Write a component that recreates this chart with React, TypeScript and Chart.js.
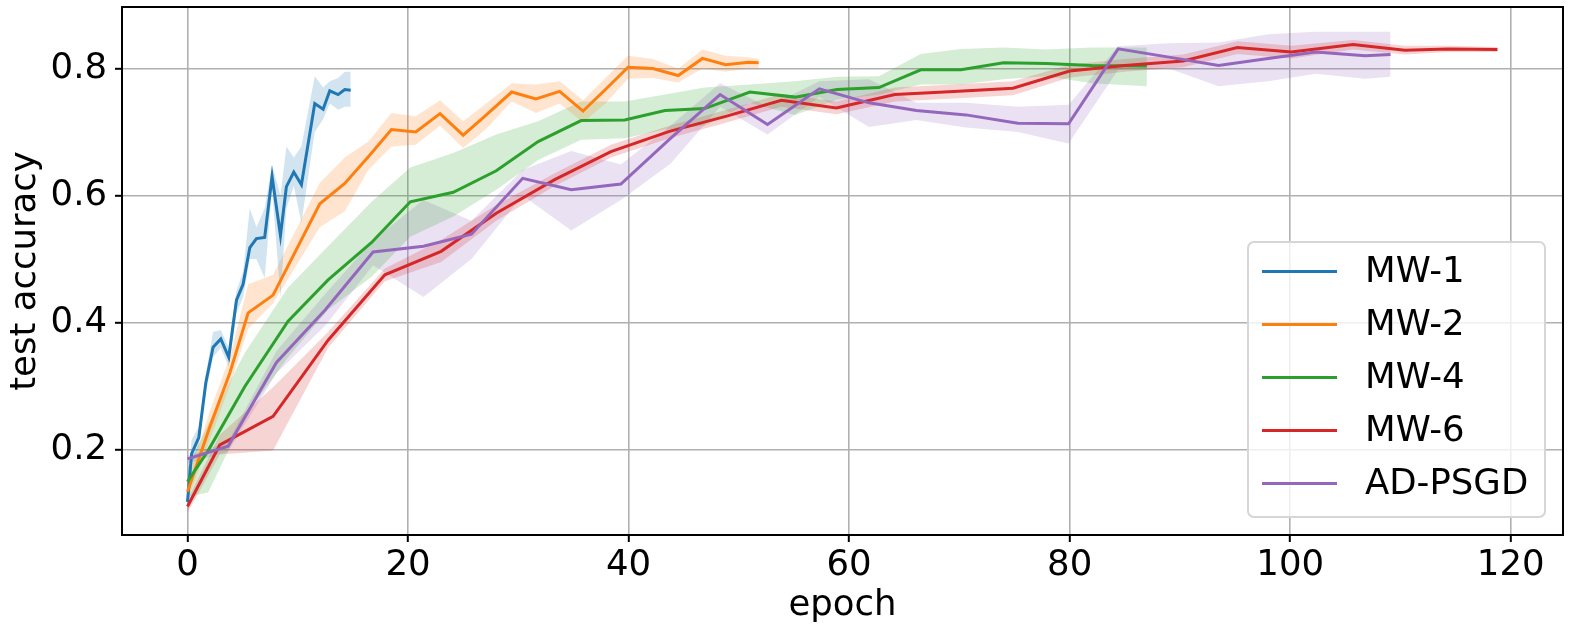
import { useEffect, useRef } from 'react';
import Chart from 'chart.js/auto';
import type { ChartConfiguration, Plugin } from 'chart.js';

// epochs, mean test accuracy and the shaded band (hi / lo) per run
const mw1Epoch = [0, 0.37, 1.03, 1.66, 2.32, 3.02, 3.74, 4.44, 5.04, 5.65, 6.25, 7.0, 7.67, 8.43, 8.97, 9.64, 10.33, 11.54, 12.3, 12.9, 13.66, 14.26, 14.8];
const mw1Acc = [0.117, 0.193, 0.219, 0.305, 0.361, 0.374, 0.345, 0.435, 0.46, 0.518, 0.532, 0.534, 0.63, 0.537, 0.614, 0.637, 0.617, 0.745, 0.736, 0.765, 0.759, 0.767, 0.766];
const mw1Hi = [0.13, 0.215, 0.235, 0.318, 0.385, 0.388, 0.36, 0.45, 0.48, 0.58, 0.55, 0.58, 0.648, 0.6, 0.677, 0.66, 0.677, 0.788, 0.77, 0.78, 0.785, 0.795, 0.795];
const mw1Lo = [0.105, 0.175, 0.205, 0.29, 0.345, 0.36, 0.33, 0.415, 0.44, 0.5, 0.5, 0.47, 0.61, 0.44, 0.58, 0.615, 0.557, 0.7, 0.72, 0.745, 0.735, 0.74, 0.74];

const mw2Epoch = [0, 2.02, 3.83, 5.5, 7.76, 12.0, 14.26, 16.4, 18.5, 20.7, 22.9, 25.0, 27.1, 29.4, 31.6, 33.75, 35.87, 37.9, 39.95, 42.2, 44.5, 46.7, 48.8, 50.9, 51.8];
const mw2Acc = [0.133, 0.235, 0.32, 0.415, 0.443, 0.587, 0.619, 0.661, 0.704, 0.7, 0.729, 0.695, 0.727, 0.763, 0.752, 0.764, 0.733, 0.767, 0.802, 0.8, 0.789, 0.816, 0.806, 0.81, 0.809];
const mw2Hi = [0.15, 0.26, 0.345, 0.46, 0.475, 0.62, 0.66, 0.685, 0.73, 0.725, 0.75, 0.717, 0.745, 0.777, 0.775, 0.78, 0.75, 0.785, 0.82, 0.815, 0.8, 0.83, 0.82, 0.818, 0.815];
const mw2Lo = [0.12, 0.215, 0.3, 0.39, 0.43, 0.55, 0.575, 0.64, 0.677, 0.68, 0.71, 0.675, 0.705, 0.748, 0.73, 0.745, 0.715, 0.745, 0.784, 0.785, 0.778, 0.8, 0.795, 0.8, 0.8];

const mw4Epoch = [0, 1.87, 5.2, 9.12, 12.75, 16.7, 20.2, 24.1, 28.0, 31.8, 35.7, 39.65, 43.3, 46.9, 51.0, 55.1, 58.9, 62.7, 66.5, 70.15, 74.0, 77.9, 82.0, 87.0];
const mw4Acc = [0.149, 0.198, 0.299, 0.402, 0.467, 0.526, 0.59, 0.605, 0.639, 0.685, 0.718, 0.719, 0.734, 0.737, 0.763, 0.755, 0.767, 0.77, 0.798, 0.798, 0.809, 0.808, 0.805, 0.804];
const mw4Hi = [0.17, 0.24, 0.352, 0.455, 0.52, 0.59, 0.644, 0.667, 0.696, 0.717, 0.748, 0.748, 0.759, 0.77, 0.775, 0.78, 0.787, 0.788, 0.823, 0.831, 0.833, 0.83, 0.833, 0.833];
const mw4Lo = [0.125, 0.132, 0.252, 0.345, 0.42, 0.472, 0.535, 0.567, 0.609, 0.656, 0.688, 0.69, 0.704, 0.71, 0.746, 0.727, 0.751, 0.759, 0.775, 0.775, 0.783, 0.788, 0.777, 0.772];

const mw6Epoch = [0, 2.93, 7.76, 12.75, 17.9, 23.0, 28.0, 33.3, 38.4, 43.7, 48.9, 53.85, 58.85, 64.15, 69.5, 74.86, 80.0, 85.0, 90.3, 95.2, 100.1, 105.7, 110.4, 114.3, 118.8];
const mw6Acc = [0.11, 0.207, 0.252, 0.372, 0.475, 0.512, 0.572, 0.625, 0.669, 0.701, 0.725, 0.75, 0.738, 0.759, 0.764, 0.769, 0.796, 0.805, 0.812, 0.833, 0.826, 0.838, 0.829, 0.831, 0.83];
const mw6Hi = [0.12, 0.223, 0.298, 0.385, 0.485, 0.53, 0.585, 0.635, 0.68, 0.71, 0.735, 0.76, 0.748, 0.77, 0.775, 0.78, 0.806, 0.815, 0.822, 0.843, 0.836, 0.845, 0.836, 0.836, 0.834];
const mw6Lo = [0.1, 0.192, 0.198, 0.36, 0.465, 0.495, 0.56, 0.615, 0.66, 0.69, 0.715, 0.74, 0.728, 0.748, 0.753, 0.758, 0.786, 0.795, 0.802, 0.823, 0.816, 0.83, 0.822, 0.826, 0.826];

const adEpoch = [0, 3.68, 8.07, 12.5, 16.83, 21.4, 25.75, 30.4, 34.8, 39.3, 43.8, 48.3, 52.6, 57.3, 61.8, 66.1, 70.6, 75.3, 79.9, 84.4, 89.0, 93.5, 98.0, 102.3, 106.8, 109.1];
const adAcc = [0.185, 0.205, 0.337, 0.42, 0.511, 0.52, 0.539, 0.627, 0.609, 0.618, 0.69, 0.759, 0.712, 0.768, 0.746, 0.734, 0.727, 0.714, 0.713, 0.831, 0.818, 0.805, 0.816, 0.826, 0.82, 0.822];
const adHi = [0.19, 0.212, 0.355, 0.445, 0.53, 0.593, 0.56, 0.64, 0.67, 0.649, 0.71, 0.777, 0.74, 0.78, 0.783, 0.746, 0.746, 0.74, 0.743, 0.835, 0.84, 0.841, 0.854, 0.858, 0.858, 0.858];
const adLo = [0.178, 0.196, 0.32, 0.395, 0.49, 0.44, 0.5, 0.6, 0.545, 0.593, 0.65, 0.74, 0.696, 0.755, 0.708, 0.719, 0.707, 0.7, 0.682, 0.798, 0.8, 0.772, 0.78, 0.792, 0.784, 0.787];

const runLabels = ['MW-1', 'MW-2', 'MW-4', 'MW-6', 'AD-PSGD'];
const runColors = ['#1f77b4', '#ff7f0e', '#2ca02c', '#d62728', '#9467bd'];
const bandColors = ['rgba(31,119,180,0.2)', 'rgba(255,127,14,0.2)', 'rgba(44,160,44,0.2)', 'rgba(214,39,40,0.2)', 'rgba(148,103,189,0.2)'];

const xTicks = [0, 20, 40, 60, 80, 100, 120];
const yTicks = [0.2, 0.4, 0.6, 0.8];

const FONT = '"DejaVu Sans", sans-serif';
const FONT_SIZE = 35.5;

const runs = [
  { epoch: mw1Epoch, acc: mw1Acc, hi: mw1Hi, lo: mw1Lo },
  { epoch: mw2Epoch, acc: mw2Acc, hi: mw2Hi, lo: mw2Lo },
  { epoch: mw4Epoch, acc: mw4Acc, hi: mw4Hi, lo: mw4Lo },
  { epoch: mw6Epoch, acc: mw6Acc, hi: mw6Hi, lo: mw6Lo },
  { epoch: adEpoch, acc: adAcc, hi: adHi, lo: adLo },
];

const pts = (xs: number[], ys: number[]) => xs.map((x, i) => ({ x, y: ys[i] }));

// full box round the plot, like matplotlib spines
const framePlugin: Plugin = {
  id: 'frame',
  afterDatasetsDraw(chart) {
    const { ctx, chartArea: a } = chart;
    ctx.save();
    ctx.strokeStyle = '#000';
    ctx.lineWidth = 2;
    ctx.strokeRect(a.left, a.top, a.right - a.left, a.bottom - a.top);
    ctx.restore();
  },
};

// legend box in the lower right corner of the plot
const legendPlugin: Plugin = {
  id: 'boxLegend',
  afterDraw(chart) {
    const { ctx, chartArea: a } = chart;
    const w = 297;
    const h = 275;
    const x0 = a.right - 18 - w;
    const y0 = a.bottom - 18 - h;
    ctx.save();
    ctx.beginPath();
    ctx.roundRect(x0, y0, w, h, 6);
    ctx.fillStyle = 'rgba(255,255,255,0.8)';
    ctx.fill();
    ctx.strokeStyle = '#d6d6d6';
    ctx.lineWidth = 2;
    ctx.stroke();
    ctx.font = `${FONT_SIZE}px ${FONT}`;
    ctx.textBaseline = 'middle';
    ctx.fillStyle = '#000';
    runLabels.forEach((label, i) => {
      const cy = y0 + 29.5 + i * 53;
      ctx.beginPath();
      ctx.moveTo(x0 + 14, cy);
      ctx.lineTo(x0 + 89, cy);
      ctx.strokeStyle = runColors[i];
      ctx.lineWidth = 3;
      ctx.stroke();
      ctx.fillText(label, x0 + 117, cy + 1);
    });
    ctx.restore();
  },
};

export default function App() {
  const canvasRef = useRef<HTMLCanvasElement>(null);
  const chartRef = useRef<Chart | null>(null);

  useEffect(() => {
    document.body.style.margin = '0';
    const canvas = canvasRef.current;
    if (!canvas) return;
    if (chartRef.current) {
      chartRef.current.destroy();
      chartRef.current = null;
    }

    const bands: any[] = [];
    runs.forEach((r, i) => {
      bands.push({
        label: `${runLabels[i]} lo`,
        data: pts(r.epoch, r.lo),
        borderWidth: 0,
        pointRadius: 0,
        fill: false,
        order: 20,
      });
      bands.push({
        label: `${runLabels[i]} hi`,
        data: pts(r.epoch, r.hi),
        borderWidth: 0,
        pointRadius: 0,
        backgroundColor: bandColors[i],
        fill: '-1',
        order: 20,
      });
    });
    const lines = runs.map((r, i) => ({
      label: runLabels[i],
      data: pts(r.epoch, r.acc),
      borderColor: runColors[i],
      borderWidth: 3,
      pointRadius: 0,
      fill: false,
      order: 5 - i,
    }));

    const tickFont = { family: FONT, size: FONT_SIZE };
    const grid = {
      color: '#b0b0b0',
      lineWidth: 1.6,
      tickColor: '#000',
      tickLength: 7,
      tickWidth: 2,
    };

    const config: ChartConfiguration = {
      type: 'line',
      data: { datasets: [...bands, ...lines] },
      options: {
        animation: false,
        responsive: true,
        maintainAspectRatio: false,
        events: [],
        layout: { padding: { top: 7, right: 14, left: 0, bottom: 0 } },
        plugins: { legend: { display: false }, tooltip: { enabled: false } },
        elements: { line: { tension: 0 } },
        scales: {
          x: {
            type: 'linear',
            min: -5.94,
            max: 124.74,
            afterBuildTicks: (s: any) => {
              s.ticks = xTicks.map((v) => ({ value: v }));
            },
            afterFit: (s: any) => {
              s.height = 93;
              s.paddingLeft = 0;
              s.paddingRight = 0;
            },
            ticks: { font: tickFont, color: '#000', padding: 2, maxRotation: 0, callback: (v: any) => String(v) },
            grid,
            border: { display: false },
            title: { display: true, text: 'epoch', font: tickFont, color: '#000', padding: { top: 0, bottom: 1 } },
          },
          y: {
            type: 'linear',
            min: 0.065,
            max: 0.897,
            afterBuildTicks: (s: any) => {
              s.ticks = yTicks.map((v) => ({ value: v }));
            },
            afterFit: (s: any) => {
              s.width = 122;
              s.paddingTop = 0;
              s.paddingBottom = 0;
            },
            ticks: { font: tickFont, color: '#000', padding: 8, callback: (v: any) => Number(v).toFixed(1) },
            grid,
            border: { display: false },
            title: { display: true, text: 'test accuracy', font: tickFont, color: '#000', padding: { top: 4, bottom: 0 } },
          },
        },
      },
      plugins: [framePlugin, legendPlugin],
    };

    chartRef.current = new Chart(canvas, config);
    return () => {
      if (chartRef.current) {
        chartRef.current.destroy();
        chartRef.current = null;
      }
    };
  }, []);

  return (
    <div style={{ width: '1577px', height: '628px', position: 'relative' }}>
      <canvas ref={canvasRef} />
    </div>
  );
}
